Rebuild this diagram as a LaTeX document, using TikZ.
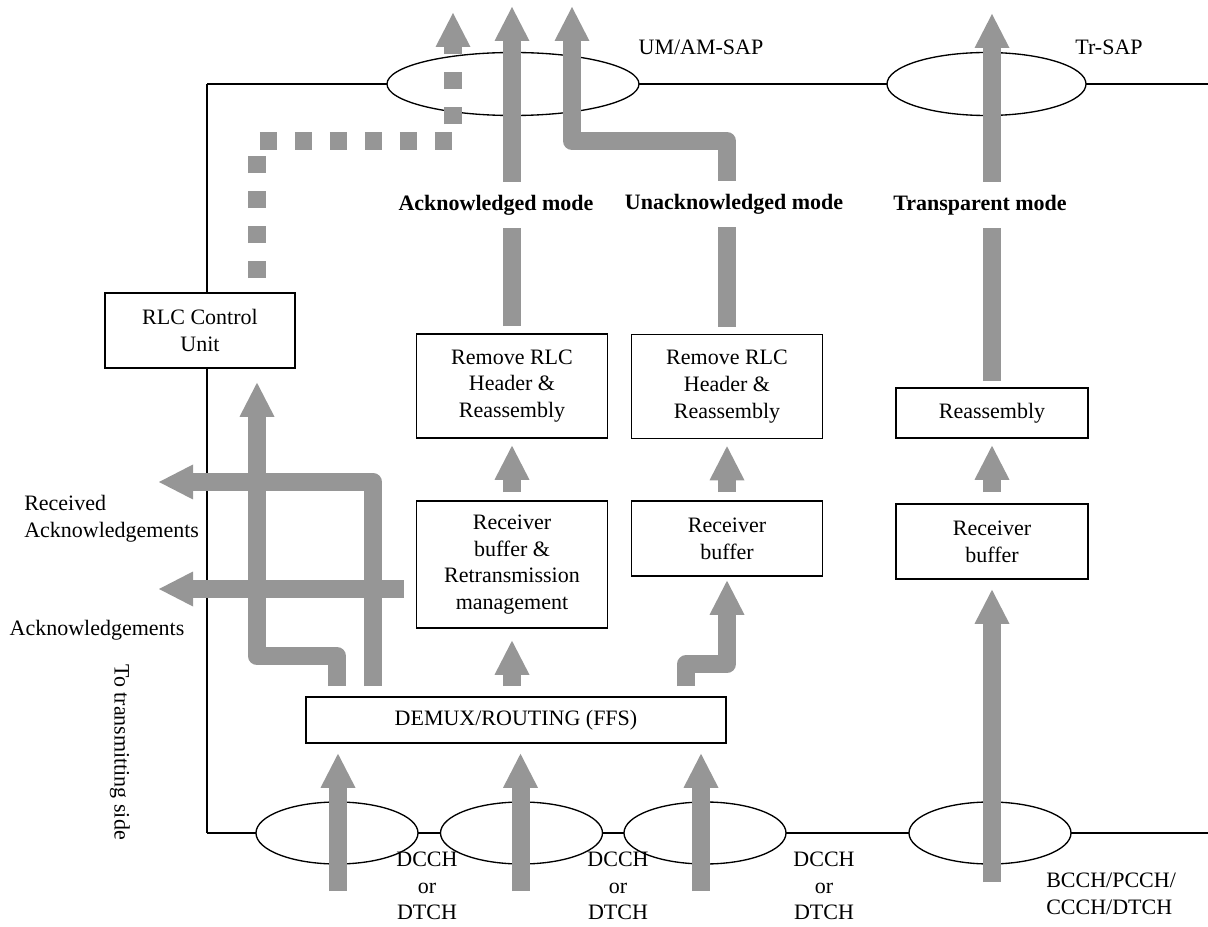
\documentclass[tikz,border=0pt]{standalone}
\usepackage{fontspec}
\setmainfont{Liberation Serif}
\usetikzlibrary{shapes.geometric,arrows.meta}
\definecolor{fatgray}{RGB}{150,150,150}
\begin{document}
\begin{tikzpicture}[x=0.75pt,y=-0.75pt,
		every node/.style={inner sep=0pt, font=\fontsize{16.5}{20}\selectfont},
		wire/.style={draw=black, line width=1pt},
		sap/.style={ellipse, draw, line width=1pt, fill=white, minimum width=121.5pt, minimum height=46.5pt},
		box/.style={draw, line width=1.2pt, fill=white, align=center, minimum width=143.25pt},
		modelabel/.style={font=\fontsize{16.5}{20}\selectfont\bfseries, minimum height=34.5pt},
		fat/.style={draw=fatgray, line width=13.5pt, line join=round},
		fatarrow/.style={fat, -{Triangle[length=25.5pt,width=26.25pt,line width=0pt]}},
		fatdash/.style={fatarrow, dash pattern=on 12.75pt off 13.5pt}]
			\useasboundingbox (0,0) rectangle (1208,927);
			\coordinate (tl) at (207,84);
			\coordinate (tr) at (1208,84);
			\coordinate (bl) at (207,833);
			\coordinate (br) at (1208,833);
			\draw [wire] (tl) -- (tr);
			\draw [wire, line width=1.5pt] (bl) -- (br);
			\draw [wire, line width=2pt] (tl) -- (bl);
			\node [sap, minimum width=189pt, minimum height=47.25pt] (umsap) at (513,84) {};
			\node [sap, minimum width=149.25pt, minimum height=47.25pt] (trsap) at (986.5,84) {};
			\node [sap] (sap1) at (337,833) {};
			\node [sap] (sap2) at (521.5,833) {};
			\node [sap] (sap3) at (705,833) {};
			\node [sap] (sap4) at (990,833) {};
			\node [box, minimum width=142.5pt, minimum height=56.25pt] (rlc) at (200,330.5) {RLC Control\\Unit};
			\node [box, minimum height=78pt] (rem1) at (512,386) {Remove RLC\\Header \&\\Reassembly};
			\node [box, minimum height=78pt] (rem2) at (727,386.5) {Remove RLC\\Header \&\\Reassembly};
			\node [box, minimum width=144pt, minimum height=37.5pt] (reasm) at (992,413) {Reassembly};
			\node [box, minimum height=95.25pt] (rxbuf1) at (512,564.5) {Receiver\\buffer \&\\Retransmission\\management};
			\node [box, minimum height=56.25pt] (rxbuf2) at (727,538.5) {Receiver\\buffer};
			\node [box, minimum width=144pt, minimum height=56.25pt] (rxbuf3) at (992,541.5) {Receiver\\buffer};
			\node [box, minimum width=315pt, minimum height=34.5pt] (demux) at (516,720) {DEMUX/ROUTING (FFS)};
			\node (umlabel) at (701,47) {UM/AM-SAP};
			\node (trlabel) at (1109,47) {Tr-SAP};
			\node [modelabel] (ackm) at (496,205) {Acknowledged mode};
			\node [modelabel] (uackm) at (734,204) {Unacknowledged mode};
			\node [modelabel] (trm) at (980,205) {Transparent mode};
			\node [anchor=west, align=left] (racklabel) at (24,518.5) {Received\\Acknowledgements};
			\node (acklabel) at (97,630) {Acknowledgements};
			\node [rotate=-90] (sidelabel) at (120,752) {To transmitting side};
			\node [align=center] (ch1) at (427,886) {DCCH\\or\\DTCH};
			\node [align=center] (ch2) at (618,886) {DCCH\\or\\DTCH};
			\node [align=center] (ch3) at (824,886) {DCCH\\or\\DTCH};
			\node [anchor=west, align=left] (ch4) at (1046,894) {BCCH/PCCH/\\CCCH/DTCH};
			\coordinate (ctlbend) at (453,141);
			\coordinate (ctltip) at (453,13);
			\coordinate (amtip) at (512,7);
			\coordinate (umbend) at (572,141);
			\coordinate (umtip) at (572,7);
			\coordinate (trtip) at (992,14);
			\coordinate (racktip) at (159,482);
			\coordinate (acktip) at (159,589);
			\coordinate (in1) at (338,891);
			\coordinate (in2) at (520.5,891);
			\coordinate (in3) at (701,891);
			\coordinate (in4) at (992,882);
			\draw [fatdash, shorten <=10.5pt] ([xshift=42.75pt]rlc.north) |- (ctlbend) -- (ctltip);
			\draw [fat, shorten <=5.25pt] (rem1.north) -- (rem1 |- ackm.south);
			\draw [fatarrow] (rem1 |- ackm.north) -- (amtip);
			\draw [fat, shorten <=5.25pt] (rem2.north) -- (rem2 |- uackm.south);
			\draw [fatarrow] (rem2 |- uackm.north) |- (umbend) -- (umtip);
			\draw [fat, shorten <=4.5pt] (reasm.north) -- (reasm |- trm.south);
			\draw [fatarrow] (reasm |- trm.north) -- (trtip);
			\draw [fatarrow, shorten <=6pt, shorten >=5.25pt] (rxbuf1) -- (rem1);
			\draw [fatarrow, shorten <=6pt, shorten >=5.25pt] (rxbuf2) -- (rem2);
			\draw [fatarrow, shorten <=8.25pt, shorten >=5.25pt] (rxbuf3) -- (reasm);
			\draw [fatarrow, shorten <=7.5pt, shorten >=9pt] (demux.north -| rxbuf1) -- (rxbuf1.south);
			\draw [fatarrow, shorten <=7.5pt, shorten >=3pt] ([xshift=285.75pt]demux.north west) -- ++(0,-32) -| (rxbuf2.south);
			\draw [fatarrow, shorten <=7.5pt, shorten >=10.5pt] ([xshift=24pt]demux.north west) -- ++(0,-40) -| ([xshift=42.75pt]rlc.south);
			\draw [fatarrow, shorten <=7.5pt] ([xshift=51pt]demux.north west) |- (racktip);
			\draw [fatarrow, shorten <=9pt] ([yshift=-18.375pt]rxbuf1.west) -- (acktip);
			\draw [fatarrow, shorten >=7.5pt] (in1) -- (in1 |- demux.south);
			\draw [fatarrow, shorten >=7.5pt] (in2) -- (in2 |- demux.south);
			\draw [fatarrow, shorten >=7.5pt] (in3) -- (in3 |- demux.south);
			\draw [fatarrow, shorten >=7.5pt] (in4) -- (rxbuf3);
\end{tikzpicture}
\end{document}
